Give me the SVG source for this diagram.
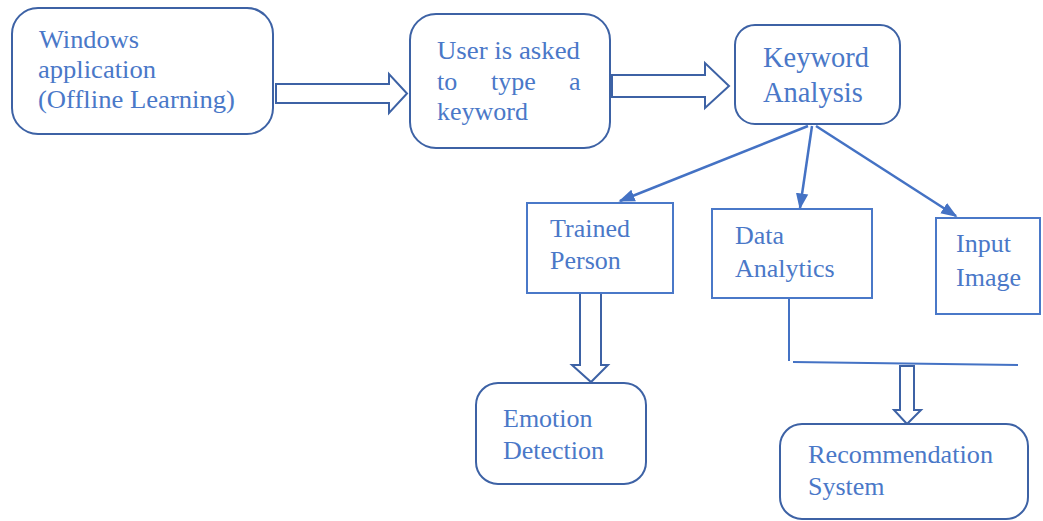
<svg xmlns="http://www.w3.org/2000/svg" width="1043" height="521" viewBox="0 0 1043 521">
<style>
.bx{fill:#fff;stroke:#3d62a5;stroke-width:2}
.rb{fill:#fff;stroke:#4a78c8;stroke-width:2}
.t{font-family:"Liberation Serif","Times New Roman",serif;font-size:26px;fill:#4a78c8}
.big{font-size:28.5px}
.ln{fill:none;stroke:#4472c4;stroke-width:2.5}
.ba{fill:#fff;stroke:#3d62a5;stroke-width:2;stroke-linejoin:miter}
</style>
<defs>
<marker id="ah" viewBox="0 0 10 10" refX="9" refY="5" markerWidth="6.5" markerHeight="6.5" orient="auto" markerUnits="strokeWidth">
<path d="M0,1.2 L10,5 L0,8.8 Z" fill="#4472c4"/>
</marker>
</defs>
<rect width="1043" height="521" fill="#fff"/>
<g id="connectors">
<path class="ba" d="M276,84 H389 V74 L407,93.5 L389,113 V103 H276 Z"/>
<path class="ba" d="M612,75 H705 V63 L729,86 L705,108 V97 H612 Z"/>
<line class="ln" x1="808" y1="126" x2="620" y2="201" marker-end="url(#ah)"/>
<line class="ln" x1="812" y1="126" x2="800" y2="208" marker-end="url(#ah)"/>
<line class="ln" x1="816" y1="126" x2="956" y2="216" marker-end="url(#ah)"/>
<path class="ba" d="M580,293 V365 H572 L591,382 L608,365 H601 V293 Z"/>
<polyline fill="none" stroke="#4472c4" stroke-width="2" points="789,298 789,361"/>
<line x1="793" y1="362" x2="1018" y2="365" stroke="#4472c4" stroke-width="2"/>
<path class="ba" d="M900,366 V410 H894 L907,424 L921,410 H914 V366 Z"/>
</g>
<g id="windows-app">
<rect class="bx" x="12" y="8" width="261" height="126" rx="26"/>
<text class="t" x="39" y="48" textLength="100" lengthAdjust="spacingAndGlyphs">Windows</text>
<text class="t" x="38" y="78" textLength="118" lengthAdjust="spacingAndGlyphs">application</text>
<text class="t" x="38" y="108" textLength="197" lengthAdjust="spacingAndGlyphs">(Offline Learning)</text>
</g>
<g id="user-keyword">
<rect class="bx" x="410" y="14" width="200" height="134" rx="26"/>
<text class="t" x="437" y="59" textLength="143" lengthAdjust="spacingAndGlyphs">User is asked</text>
<text class="t" y="90"><tspan x="437">to</tspan><tspan x="491">type</tspan><tspan x="569">a</tspan></text>
<text class="t" x="437" y="120">keyword</text>
</g>
<g id="keyword-analysis">
<rect class="bx" x="735" y="25" width="165" height="99" rx="20"/>
<text class="t big" x="763" y="67">Keyword</text>
<text class="t big" x="763" y="102">Analysis</text>
</g>
<g id="trained-person">
<rect class="rb" x="527" y="203" width="146" height="90"/>
<text class="t" x="550" y="237">Trained</text>
<text class="t" x="550" y="269">Person</text>
</g>
<g id="data-analytics">
<rect class="rb" x="712" y="209" width="160" height="89"/>
<text class="t" x="735" y="244">Data</text>
<text class="t" x="735" y="277">Analytics</text>
</g>
<g id="input-image">
<rect class="rb" x="936" y="218" width="104" height="96"/>
<text class="t" x="956" y="252">Input</text>
<text class="t" x="956" y="286">Image</text>
</g>
<g id="emotion-detection">
<rect class="bx" x="476" y="383" width="170" height="101" rx="22"/>
<text class="t" x="503" y="427">Emotion</text>
<text class="t" x="503" y="459">Detection</text>
</g>
<g id="recommendation">
<rect class="bx" x="780" y="424" width="248" height="95" rx="22"/>
<text class="t" x="808" y="463" textLength="185" lengthAdjust="spacingAndGlyphs">Recommendation</text>
<text class="t" x="808" y="495">System</text>
</g>
</svg>
